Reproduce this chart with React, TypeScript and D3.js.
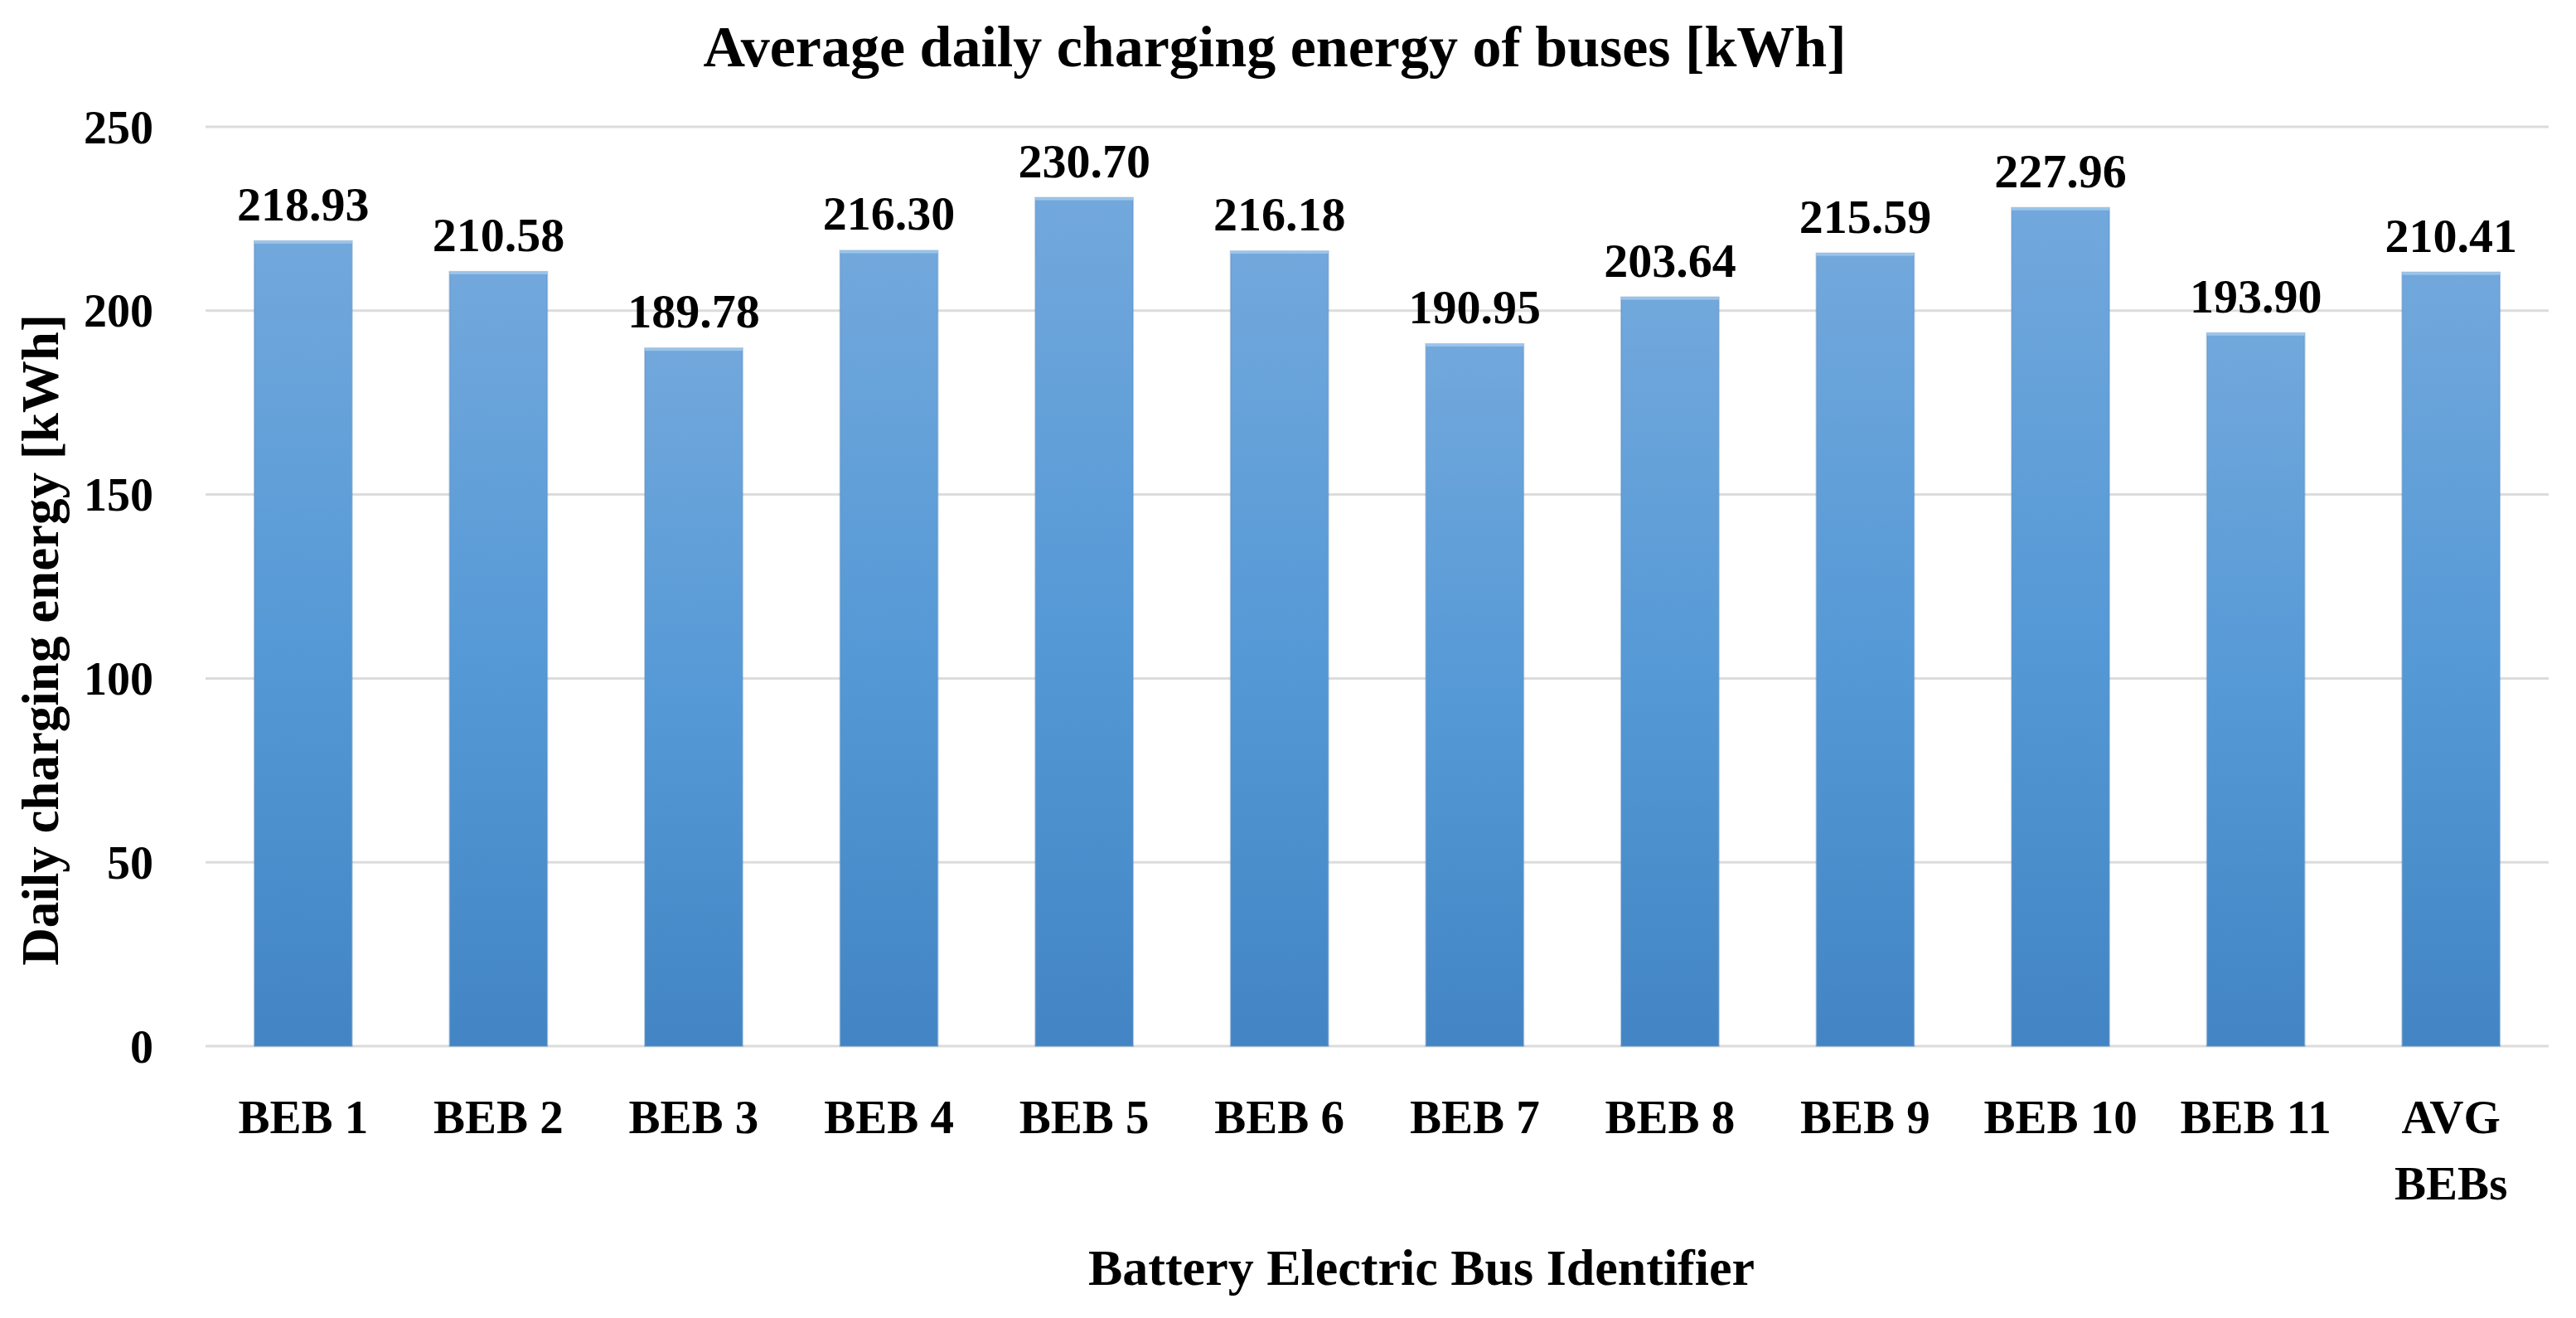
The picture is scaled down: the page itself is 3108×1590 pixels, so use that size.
import * as d3 from "d3";
import { useEffect, useRef } from "react";

const categories = [
  "BEB 1", "BEB 2", "BEB 3", "BEB 4", "BEB 5", "BEB 6",
  "BEB 7", "BEB 8", "BEB 9", "BEB 10", "BEB 11", "AVG\nBEBs",
];
const energyValues = [
  218.93, 210.58, 189.78, 216.3, 230.7, 216.18,
  190.95, 203.64, 215.59, 227.96, 193.9, 210.41,
];
const yTicks = [0, 50, 100, 150, 200, 250];

const chartTitle = "Average daily charging energy of buses [kWh]";
const xTitle = "Battery Electric Bus Identifier";
const yTitle = "Daily charging energy [kWh]";

const WIDTH = 3108;
const HEIGHT = 1590;
const FONT = "'Liberation Serif', 'Times New Roman', serif";

export default function App() {
  const svgRef = useRef<SVGSVGElement | null>(null);

  useEffect(() => {
    const svg = d3.select(svgRef.current);
    svg.selectChildren().remove();

    const x = d3
      .scaleBand<number>()
      .domain(d3.range(categories.length))
      .range([248, 3075])
      .paddingInner(0.5)
      .paddingOuter(0.25);

    const y = d3.scaleLinear().domain([0, 250]).range([1262, 153]);

    const defs = svg.append("defs");
    const grad = defs
      .append("linearGradient")
      .attr("id", "bar-gradient")
      .attr("x1", "0%")
      .attr("y1", "0%")
      .attr("x2", "0%")
      .attr("y2", "100%");
    grad.append("stop").attr("offset", "0%").attr("stop-color", "#72a8dc");
    grad.append("stop").attr("offset", "50%").attr("stop-color", "#5599d6");
    grad.append("stop").attr("offset", "100%").attr("stop-color", "#4385c4");

    // gridlines
    svg
      .append("g")
      .selectAll("line")
      .data(yTicks)
      .enter()
      .append("line")
      .attr("x1", 248)
      .attr("x2", 3075)
      .attr("y1", (d) => y(d))
      .attr("y2", (d) => y(d))
      .attr("stroke", "#dcdcdc")
      .attr("stroke-width", 3);

    // y tick labels
    svg
      .append("g")
      .selectAll("text")
      .data(yTicks)
      .enter()
      .append("text")
      .attr("x", 185)
      .attr("y", (d) => y(d))
      .attr("dy", "0.35em")
      .attr("text-anchor", "end")
      .style("font-family", FONT)
      .style("font-weight", "bold")
      .style("font-size", "56px")
      .text((d) => d);

    // bars
    const bars = svg
      .append("g")
      .selectAll("g")
      .data(energyValues)
      .enter()
      .append("g");

    bars
      .append("rect")
      .attr("x", (_, i) => x(i)!)
      .attr("y", (d) => y(d))
      .attr("width", x.bandwidth())
      .attr("height", (d) => y(0) - y(d))
      .attr("fill", "url(#bar-gradient)")
      .attr("stroke", "#5a8ec4")
      .attr("stroke-opacity", 0.45)
      .attr("stroke-width", 2);

    bars
      .append("rect")
      .attr("x", (_, i) => x(i)!)
      .attr("y", (d) => y(d))
      .attr("width", x.bandwidth())
      .attr("height", 3)
      .attr("fill", "#9cc4ea");

    // value labels
    bars
      .append("text")
      .attr("x", (_, i) => x(i)! + x.bandwidth() / 2)
      .attr("y", (d) => y(d) - 25)
      .attr("text-anchor", "middle")
      .style("font-family", FONT)
      .style("font-weight", "bold")
      .style("font-size", "58px")
      .text((d) => d3.format(".2f")(d));

    // category labels
    const catLabels = svg
      .append("g")
      .selectAll("text")
      .data(categories)
      .enter()
      .append("text")
      .attr("x", (_, i) => x(i)! + x.bandwidth() / 2)
      .attr("y", 1367)
      .attr("text-anchor", "middle")
      .style("font-family", FONT)
      .style("font-weight", "bold")
      .style("font-size", "57px");

    catLabels
      .selectAll("tspan")
      .data((d) => d.split("\n"))
      .enter()
      .append("tspan")
      .attr("x", function () {
        return (this as SVGTSpanElement).parentElement!.getAttribute("x");
      })
      .attr("dy", (_, i) => (i === 0 ? 0 : 80))
      .text((d) => d);

    // titles
    svg
      .append("text")
      .attr("x", 1538)
      .attr("y", 80)
      .attr("text-anchor", "middle")
      .style("font-family", FONT)
      .style("font-weight", "bold")
      .style("font-size", "70px")
      .text(chartTitle);

    svg
      .append("text")
      .attr("x", 1715)
      .attr("y", 1550)
      .attr("text-anchor", "middle")
      .style("font-family", FONT)
      .style("font-weight", "bold")
      .style("font-size", "62px")
      .text(xTitle);

    svg
      .append("text")
      .attr("transform", "translate(70, 772) rotate(-90)")
      .attr("text-anchor", "middle")
      .style("font-family", FONT)
      .style("font-weight", "bold")
      .style("font-size", "63px")
      .text(yTitle);
  }, []);

  return (
    <svg
      ref={svgRef}
      width={WIDTH}
      height={HEIGHT}
      style={{ position: "absolute", left: 0, top: 0, background: "#ffffff" }}
    />
  );
}
